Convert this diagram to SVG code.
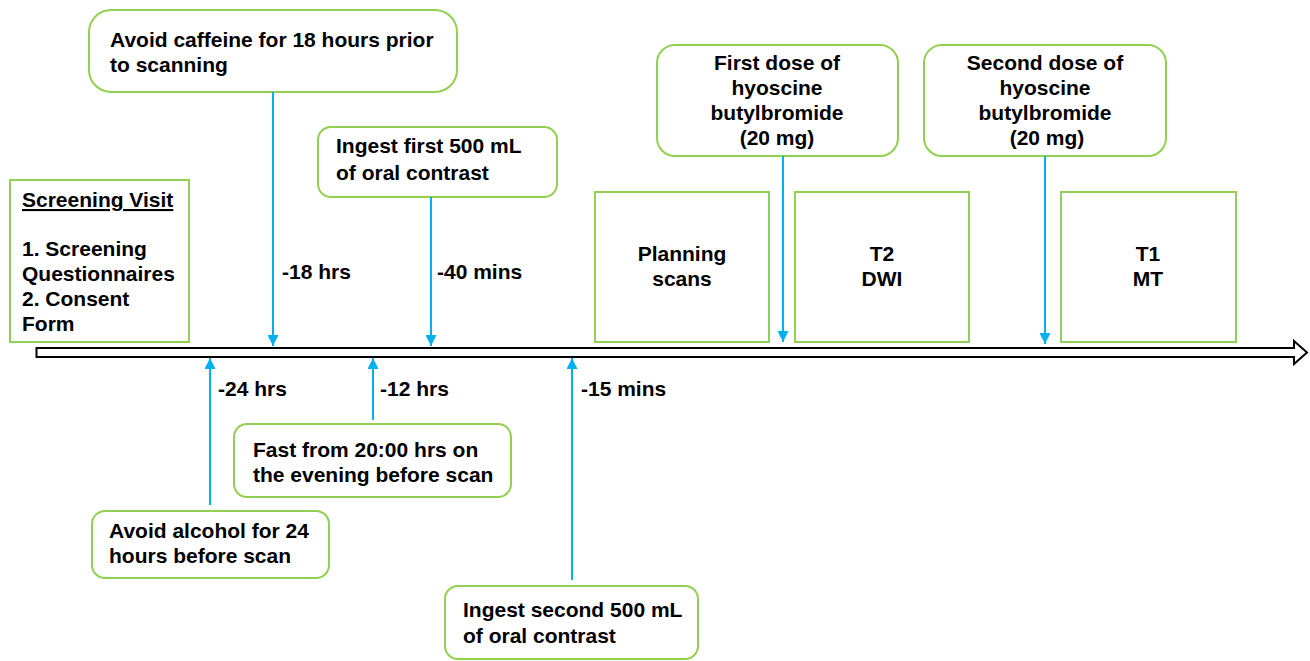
<svg xmlns="http://www.w3.org/2000/svg" width="1310" height="661" viewBox="0 0 1310 661">
<style>
.box{fill:#fff;stroke:#92D050;stroke-width:2}
.t{font-family:"Liberation Sans",Arial,sans-serif;font-weight:bold;font-size:21px;fill:#000}
.c{text-anchor:middle}
.con{stroke:#00B0F0;stroke-width:2;fill:none}
</style>
<defs>
<marker id="ah" viewBox="0 0 10 10" refX="10" refY="5" markerWidth="5.5" markerHeight="5.5" orient="auto" markerUnits="strokeWidth">
<path d="M0,0 L10,5 L0,10 Z" fill="#00B0F0"/>
</marker>
</defs>
<rect width="1310" height="661" fill="#fff"/>
<g id="timeline">
<path d="M36.5,348 H1294 V341 L1307,352.5 L1294,364 V357 H36.5 Z" fill="#fff" stroke="#000" stroke-width="2"/>
</g>
<g id="screening">
<rect class="box" x="10" y="180" width="179" height="162"/>
<text class="t" x="22" y="207" text-decoration="underline">Screening Visit</text>
<text class="t" x="22" y="256">1. Screening</text>
<text class="t" x="22" y="281">Questionnaires</text>
<text class="t" x="22" y="306">2. Consent</text>
<text class="t" x="22" y="331">Form</text>
</g>
<g id="caffeine">
<rect class="box" x="89" y="10" width="368" height="82" rx="22"/>
<text class="t" x="110" y="47">Avoid caffeine for 18 hours prior</text>
<text class="t" x="110" y="72">to scanning</text>
</g>
<g id="ingest1">
<rect class="box" x="318" y="127" width="239" height="70" rx="13"/>
<text class="t" x="336" y="153">Ingest first 500 mL</text>
<text class="t" x="336" y="180">of oral contrast</text>
</g>
<g id="planning">
<rect class="box" x="595" y="192" width="174" height="150"/>
<text class="t c" x="682" y="261">Planning</text>
<text class="t c" x="682" y="286">scans</text>
</g>
<g id="dose1">
<rect class="box" x="657" y="45" width="241" height="111" rx="18"/>
<text class="t c" x="777" y="70">First dose of</text>
<text class="t c" x="777" y="95">hyoscine</text>
<text class="t c" x="777" y="120">butylbromide</text>
<text class="t c" x="777" y="145">(20 mg)</text>
</g>
<g id="t2dwi">
<rect class="box" x="795" y="192" width="174" height="150"/>
<text class="t c" x="882" y="261">T2</text>
<text class="t c" x="882" y="286">DWI</text>
</g>
<g id="dose2">
<rect class="box" x="924" y="45" width="242" height="111" rx="18"/>
<text class="t c" x="1045" y="70">Second dose of</text>
<text class="t c" x="1045" y="95">hyoscine</text>
<text class="t c" x="1045" y="120">butylbromide</text>
<text class="t c" x="1047" y="145">(20 mg)</text>
</g>
<g id="t1mt">
<rect class="box" x="1061" y="192" width="175" height="150"/>
<text class="t c" x="1148" y="261">T1</text>
<text class="t c" x="1148" y="286">MT</text>
</g>
<g id="fast">
<rect class="box" x="234" y="424" width="277" height="73" rx="13"/>
<text class="t" x="253" y="457">Fast from 20:00 hrs on</text>
<text class="t" x="253" y="482">the evening before scan</text>
</g>
<g id="alcohol">
<rect class="box" x="92" y="511" width="237" height="67" rx="13"/>
<text class="t" x="109" y="538">Avoid alcohol for 24</text>
<text class="t" x="109" y="563">hours before scan</text>
</g>
<g id="ingest2">
<rect class="box" x="445" y="586" width="253" height="73" rx="13"/>
<text class="t" x="463" y="617">Ingest second 500 mL</text>
<text class="t" x="463" y="643">of oral contrast</text>
</g>
<g id="connectors">
<line class="con" x1="273" y1="92" x2="273" y2="346" marker-end="url(#ah)"/>
<line class="con" x1="431" y1="197" x2="431" y2="346" marker-end="url(#ah)"/>
<line class="con" x1="783" y1="156" x2="783" y2="342" marker-end="url(#ah)"/>
<line class="con" x1="1045" y1="156" x2="1045" y2="344" marker-end="url(#ah)"/>
<line class="con" x1="210" y1="505" x2="210" y2="358" marker-end="url(#ah)"/>
<line class="con" x1="373" y1="420" x2="373" y2="358" marker-end="url(#ah)"/>
<line class="con" x1="572" y1="580" x2="572" y2="358" marker-end="url(#ah)"/>
<text class="t" x="282" y="279">-18 hrs</text>
<text class="t" x="437" y="279">-40 mins</text>
<text class="t" x="218" y="396">-24 hrs</text>
<text class="t" x="380" y="396">-12 hrs</text>
<text class="t" x="581" y="396">-15 mins</text>
</g>
</svg>
